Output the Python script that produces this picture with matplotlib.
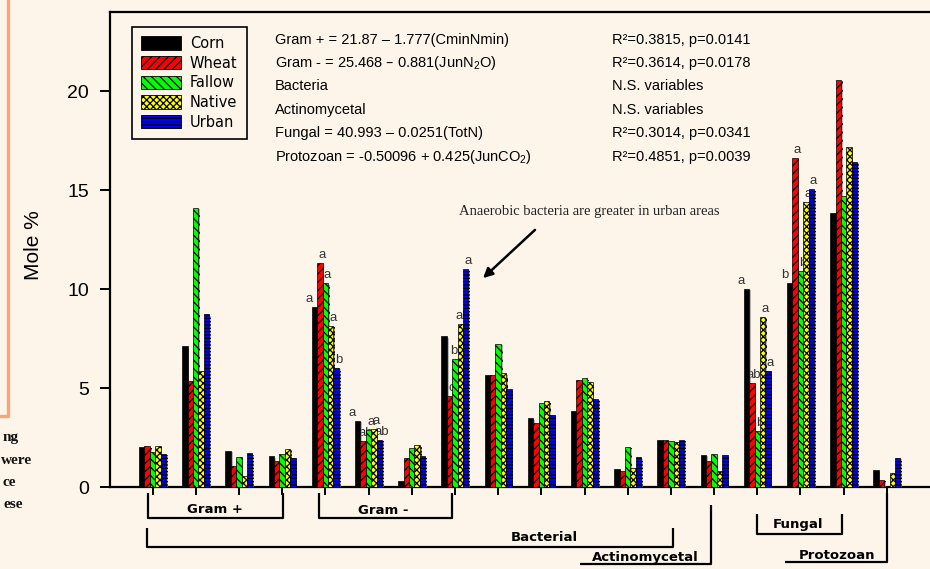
import numpy as np
import matplotlib
matplotlib.use('Agg')
import matplotlib.pyplot as plt
from matplotlib.patches import Patch
import matplotlib.patheffects as pe

plt.rcParams['font.family'] = ['Liberation Sans', 'DejaVu Sans']
plt.rcParams['mathtext.default'] = 'regular'
plt.rcParams['hatch.linewidth'] = 0.9

# ---------------- data ----------------
treatments = ['Corn', 'Wheat', 'Fallow', 'Native', 'Urban']
corn   = [2.00, 7.10, 1.82, 1.55, 9.12, 3.36, 0.30, 7.62, 5.66, 3.48, 3.86, 0.92, 2.38, 1.64, 10.0, 10.30, 13.83, 0.85]
wheat  = [2.05, 5.35, 1.06, 1.33, 11.30, 2.34, 1.47, 4.60, 5.65, 3.25, 5.41, 0.82, 2.38, 1.31, 5.26, 16.62, 20.56, 0.35]
fallow = [1.78, 14.10, 1.52, 1.65, 10.29, 2.88, 1.97, 6.45, 7.25, 4.24, 5.49, 2.04, 2.30, 1.66, 2.84, 10.92, 14.70, 0.00]
native = [2.08, 5.86, 0.58, 1.92, 8.13, 2.93, 2.11, 8.22, 5.75, 4.33, 5.30, 0.95, 2.26, 0.80, 8.59, 14.39, 17.20, 0.71]
urban  = [1.67, 8.73, 1.70, 1.49, 6.03, 2.37, 1.56, 11.03, 4.95, 3.65, 4.47, 1.51, 2.37, 1.60, 5.86, 15.05, 16.43, 1.47]
series = [corn, wheat, fallow, native, urban]

# significance letters: group index -> letters per treatment
letters = {4: ['a', 'a', 'a', 'a', 'b'],
           5: ['a', 'ab', 'a', 'a', 'ab'],
           7: ['', 'c', 'bc', 'ab', 'a'],
           14: ['a', 'ab', 'b', 'a', 'a'],
           15: ['b', 'a', 'b', 'a', 'a']}

eq_left = ['Gram + = 21.87 \u2013 1.777(CminNmin)',
           'Gram - = 25.468 \u2013 0.881(JunN$_2$O)',
           'Bacteria',
           'Actinomycetal',
           'Fungal = 40.993 \u2013 0.0251(TotN)',
           'Protozoan = -0.50096 + 0.425(JunCO$_2$)']
eq_right = ['R\u00b2=0.3815, p=0.0141',
            'R\u00b2=0.3614, p=0.0178',
            'N.S. variables',
            'N.S. variables',
            'R\u00b2=0.3014, p=0.0341',
            'R\u00b2=0.4851, p=0.0039']

yticks = [0, 5, 10, 15, 20]

# ---------------- style ----------------
bg = '#fdf5ea'
colors = ['#000000', '#ff0000', '#00ff00', '#ffff00', '#0000ff']
hatches = [None, '////', '\\\\\\\\', 'xxxxx', '-----']

W, H = 930, 569
fig = plt.figure(figsize=(W / 100, H / 100), dpi=100, facecolor=bg)


def fx(px):
    return px / W


def fy(py):
    return 1 - py / H


ax = fig.add_axes([fx(110), fy(487), (940 - 110) / W, (487 - 12) / H])
ax.set_facecolor(bg)

n = len(corn)
x = np.arange(n)
w = 0.125
shadow = [pe.SimplePatchShadow(offset=(1.2, -1.0), shadow_rgbFace='#8a8a8a', alpha=0.6), pe.Normal()]
for i, vals in enumerate(series):
    bars = ax.bar(x + (i - 2) * w, vals, width=w, color=colors[i], edgecolor='black',
                  hatch=hatches[i], linewidth=0.5, zorder=3)
    for b in bars:
        b.set_path_effects(shadow)

for g, labs in letters.items():
    for i, lab in enumerate(labs):
        if not lab:
            continue
        dx = -0.12 if i == 0 else 0.05
        ax.text(x[g] + (i - 2) * w + dx, series[i][g] + 0.25, lab, ha='center', va='baseline',
                fontsize=9.5, color='#333333', zorder=2)

ax.set_xlim(-0.986, 18.23)
ax.set_ylim(0, 24)
ax.set_yticks(yticks)
ax.set_xticks(x)
ax.set_xticklabels([])
ax.tick_params(axis='y', direction='out', length=7.2, width=1.4, labelsize=14, pad=8)
ax.tick_params(axis='x', direction='out', length=5.8, width=1.4)
ax.spines['right'].set_visible(False)
for s in ['left', 'top', 'bottom']:
    ax.spines[s].set_linewidth(1.6)

fig.text(fx(33), fy(245), 'Mole %', rotation=90, ha='center', va='center', fontsize=15)

# legend
handles = [Patch(facecolor=colors[i], edgecolor='black', hatch=hatches[i], linewidth=0.6)
           for i in range(5)]
leg = ax.legend(handles, treatments, loc='upper left', bbox_to_anchor=(fx(132), fy(27)),
                bbox_transform=fig.transFigure, borderaxespad=0, fancybox=False,
                edgecolor='black', facecolor=bg, framealpha=1, handlelength=2.75,
                handleheight=1.05, handletextpad=0.6, labelspacing=0.32, borderpad=0.62,
                prop={'family': 'DejaVu Sans', 'size': 10.5})
leg.get_frame().set_linewidth(1.2)

# equations
rows_y = [40, 63, 86, 110, 133, 157]
for t, ty in zip(eq_left, rows_y):
    fig.text(fx(275), fy(ty), t, ha='left', va='center', fontsize=10.5)
for t, ty in zip(eq_right, rows_y):
    fig.text(fx(612), fy(ty), t, ha='left', va='center', fontsize=10.5)

# annotation
fig.text(fx(459), fy(211), 'Anaerobic bacteria are greater in urban areas', ha='left', va='center',
         fontsize=10.5, family='Liberation Serif', color='#222222')
ax.annotate('', xy=(fx(481), fy(280)), xycoords='figure fraction',
            xytext=(fx(537), fy(228)), textcoords='figure fraction',
            arrowprops=dict(arrowstyle='-|>', lw=1.8, color='black', mutation_scale=14))


# group brackets below the axis (data x, data y below zero)
def yd(py):
    return (487 - py) / 19.79


def line(xs, ys):
    ax.plot(xs, [yd(v) for v in ys], color='black', lw=1.6, clip_on=False, zorder=5,
            solid_capstyle='butt')


lab_kw = dict(ha='center', va='center', fontsize=9.5, fontweight='bold', family='DejaVu Sans',
              clip_on=False)
# Gram +
line([-0.106, -0.106, 3.03, 3.03], [493, 518, 518, 493])
ax.text(1.44, yd(509), 'Gram +', **lab_kw)
# Gram -
line([3.85, 3.85, 6.94, 6.94], [493, 518, 518, 493])
ax.text(5.34, yd(510), 'Gram -', **lab_kw)
# Bacterial
line([-0.14, -0.14, 12.04, 12.04], [528, 546.5, 546.5, 528])
ax.text(9.08, yd(537), 'Bacterial', **lab_kw)
# Actinomycetal
line([9.9, 12.92, 12.92], [563.5, 563.5, 505])
ax.text(11.4, yd(557), 'Actinomycetal', **lab_kw)
# Fungal
line([14.0, 14.0, 15.96, 15.96], [514, 534, 534, 514])
ax.text(14.95, yd(524), 'Fungal', **lab_kw)
# Protozoan
line([14.63, 17.0, 17.0], [561.5, 561.5, 493])
ax.text(15.84, yd(555), 'Protozoan', **lab_kw)

# left slide remnants
fig.add_artist(plt.Line2D([fx(8), fx(8), fx(0)], [fy(0), fy(416), fy(416)],
                          transform=fig.transFigure, color='#f9a577', lw=2.4))
for t, rx, by in [('ng', 19, 441.5), ('were', 32, 464), ('ce', 15.5, 486.5), ('ese', 23, 508)]:
    fig.text(fx(rx), fy(by), t, ha='right', va='baseline', fontsize=11, fontweight='bold',
             family='Liberation Serif', color='#111111')

fig.savefig('out.png', dpi=100, facecolor=bg)
